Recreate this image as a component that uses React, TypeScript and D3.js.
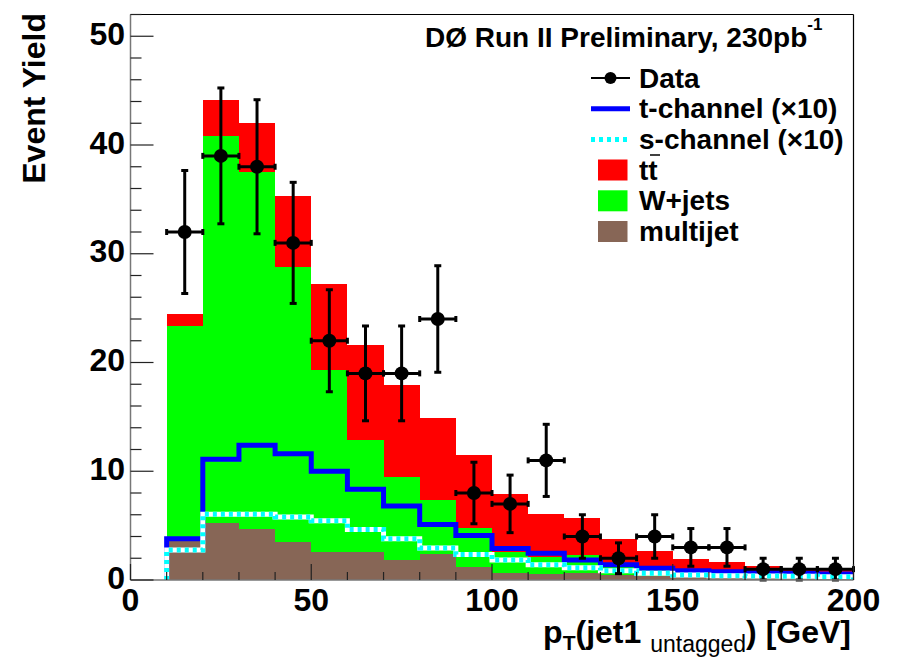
import React from "react";
import * as d3 from "d3";

const binEdges = [10, 20, 30, 40, 50, 60, 70, 80, 90, 100, 110, 120, 130, 140, 150, 160, 170, 180, 190, 200];
const multijet = [3.7, 5.2, 4.7, 3.5, 2.6, 2.6, 1.8, 2.4, 1.2, 0.6, 0.55, 0.6, 0.45, 0.4, 0.3, 0.3, 0.25, 0.2, 0.2];
const wjets = [19.7, 35.6, 32.8, 25.3, 16.7, 10.3, 7.7, 5.0, 3.6, 2.0, 1.6, 1.7, 0.95, 0.5, 0.4, 0.35, 0.25, 0.25, 0.2];
const ttbar = [1.1, 3.3, 4.5, 6.5, 7.9, 8.7, 8.4, 7.5, 6.7, 5.35, 3.95, 3.4, 2.4, 1.75, 1.25, 1.05, 0.8, 0.6, 0.5];
const tchannel = [3.8, 11.1, 12.4, 11.6, 10.0, 8.35, 6.8, 5.1, 4.1, 2.9, 2.45, 1.85, 1.4, 1.07, 0.86, 0.76, 0.67, 0.6, 0.55];
const schannel = [2.75, 6.05, 6.05, 5.8, 5.45, 4.65, 3.8, 2.95, 2.35, 1.85, 1.4, 1.13, 0.86, 0.62, 0.46, 0.4, 0.37, 0.34, 0.3];
const dataCounts = [32, 39, 38, 31, 22, 19, 19, 24, 8, 7, 11, 4, 2, 4, 3, 3, 1, 1, 1];
const xTicksMajor = [0, 50, 100, 150, 200];
const yTicksMajor = [0, 10, 20, 30, 40, 50];

const W = 898, H = 661;
const L = 130.5, R = 853.5, T = 14.5, B = 580;
const FONT = "'Liberation Sans', Arial, Helvetica, sans-serif";

export default function App() {
  const x = d3.scaleLinear().domain([0, 200]).range([L, R]);
  const y = d3.scaleLinear().domain([0, 52]).range([B, T]);

  const rows = multijet.map((m, i) => ({ i, multijet: m, wjets: wjets[i], ttbar: ttbar[i] }));
  const stack = d3.stack<any>().keys(["multijet", "wjets", "ttbar"])(rows);
  const colors: Record<string, string> = { multijet: "#876656", wjets: "#00ff00", ttbar: "#ff0000" };

  const stepPath = (vals: number[]) => {
    const pts: [number, number][] = [[binEdges[0], 0]];
    vals.forEach((v, i) => {
      pts.push([binEdges[i], v]);
      pts.push([binEdges[i + 1], v]);
    });
    pts.push([binEdges[binEdges.length - 1], 0]);
    return d3.line<[number, number]>().x(d => x(d[0])).y(d => y(d[1]))(pts) || "";
  };

  const yMinor = d3.range(0, 52.01, 2).filter(v => v % 10 !== 0);
  const xMinor = d3.range(0, 200.01, 10).filter(v => v % 50 !== 0);

  const legendX0 = 591, legendX1 = 630, legendText = 639;
  const rowsY = [78, 108.7, 139.4, 170, 200.8, 231.5];

  return (
    <svg width={W} height={H} style={{ position: "absolute", left: 0, top: 0, background: "#fff" }} fontFamily={FONT}>
      <rect x={0} y={0} width={W} height={H} fill="#fff" />
      <defs>
        <clipPath id="frame">
          <rect x={L} y={T} width={R - L} height={B - T} />
        </clipPath>
      </defs>
      <g clipPath="url(#frame)">
        {stack.map(layer => (
          <g key={layer.key}>
            {layer.map((d, i) => (
              <rect
                key={i}
                x={x(binEdges[i])}
                width={x(binEdges[i + 1]) - x(binEdges[i])}
                y={y(d[1])}
                height={y(d[0]) - y(d[1])}
                fill={colors[layer.key as string]}
                shapeRendering="crispEdges"
              />
            ))}
          </g>
        ))}
        <path d={stepPath(tchannel)} fill="none" stroke="#0000ff" strokeWidth={5} />
        <path d={stepPath(schannel)} fill="none" stroke="#ffffff" strokeWidth={5} />
        <path d={stepPath(schannel)} fill="none" stroke="#00ffff" strokeWidth={5} strokeDasharray="4 4" />
      </g>

      {/* data points */}
      <g stroke="#000" strokeWidth={3}>
        {dataCounts.map((n, i) => {
          const cx = x((binEdges[i] + binEdges[i + 1]) / 2);
          const cy = y(n);
          const e = Math.sqrt(n);
          const x0 = x(binEdges[i]), x1 = x(binEdges[i + 1]);
          const yt = y(n + e), yb = y(Math.max(n - e, 0));
          return (
            <g key={i}>
              <line x1={x0} x2={x1} y1={cy} y2={cy} />
              <line x1={x0} x2={x0} y1={cy - 3} y2={cy + 3} />
              <line x1={x1} x2={x1} y1={cy - 3} y2={cy + 3} />
              <line x1={cx} x2={cx} y1={yt} y2={yb} />
              <line x1={cx - 3.5} x2={cx + 3.5} y1={yt} y2={yt} />
              <line x1={cx - 3.5} x2={cx + 3.5} y1={yb} y2={yb} />
              <circle cx={cx} cy={cy} r={7} fill="#000" stroke="none" />
            </g>
          );
        })}
      </g>

      {/* frame */}
      <line x1={L} x2={R} y1={T} y2={T} stroke="#000" strokeWidth={1.2} />
      <line x1={R} x2={R} y1={T} y2={B} stroke="#000" strokeWidth={1.2} />
      <line x1={L} x2={L} y1={T} y2={B} stroke="#777" strokeWidth={1.5} />
      <line x1={L} x2={R} y1={B} y2={B} stroke="#777" strokeWidth={1.5} />

      {/* ticks */}
      <g stroke="#222" strokeWidth={1.2}>
        {yTicksMajor.map(v => <line key={"ym" + v} x1={L} x2={L + 23} y1={y(v)} y2={y(v)} />)}
        {yMinor.map(v => <line key={"yn" + v} x1={L} x2={L + 11} y1={y(v)} y2={y(v)} />)}
        {xTicksMajor.map(v => <line key={"xm" + v} x1={x(v)} x2={x(v)} y1={B} y2={B - 16} />)}
        {xMinor.map(v => <line key={"xn" + v} x1={x(v)} x2={x(v)} y1={B} y2={B - 8} />)}
      </g>

      {/* tick labels */}
      <g fontSize={32} fontWeight="bold" fill="#000">
        {yTicksMajor.map(v => (
          <text key={"yl" + v} x={125} y={y(v) - 2.5} textAnchor="end" dominantBaseline="central">{v}</text>
        ))}
        {xTicksMajor.map(v => (
          <text key={"xl" + v} x={x(v)} y={611} textAnchor="middle">{v}</text>
        ))}
      </g>

      {/* axis titles */}
      <text transform="translate(45,13) rotate(-90)" textAnchor="end" fontSize={32} fontWeight="bold">Event Yield</text>
      <text x={851} y={643} textAnchor="end" fontSize={32} fontWeight="bold">
        p<tspan fontSize={21} dy={7}>T</tspan><tspan dy={-7}>(jet1 </tspan>
        <tspan fontSize={23} fontWeight="normal" dy={9}>untagged</tspan>
        <tspan dy={-9}>) [GeV]</tspan>
      </text>

      {/* title */}
      <text x={425} y={47} fontSize={28} fontWeight="bold">
        DØ Run II Preliminary, 230pb<tspan fontSize={17} dy={-17}>-1</tspan>
      </text>

      {/* legend */}
      <g fontSize={28} fontWeight="bold">
        <line x1={legendX0} x2={legendX1} y1={rowsY[0]} y2={rowsY[0]} stroke="#000" strokeWidth={2} />
        <circle cx={(legendX0 + legendX1) / 2} cy={rowsY[0]} r={6} fill="#000" />
        <text x={legendText} y={rowsY[0]} dominantBaseline="central">Data</text>

        <line x1={legendX0} x2={legendX1} y1={rowsY[1]} y2={rowsY[1]} stroke="#0000ff" strokeWidth={5} />
        <text x={legendText} y={rowsY[1]} dominantBaseline="central">t-channel (×10)</text>

        <line x1={legendX0} x2={legendX1} y1={rowsY[2]} y2={rowsY[2]} stroke="#00ffff" strokeWidth={5} strokeDasharray="4 4" />
        <text x={legendText} y={rowsY[2]} dominantBaseline="central">s-channel (×10)</text>

        <rect x={598} y={rowsY[3] - 10.5} width={29.5} height={21} fill="#ff0000" />
        <text x={legendText} y={rowsY[3]} dominantBaseline="central">tt</text>
        <line x1={650} x2={660} y1={155} y2={155} stroke="#000" strokeWidth={1.5} />

        <rect x={598} y={rowsY[4] - 10.5} width={29.5} height={21} fill="#00ff00" />
        <text x={legendText} y={rowsY[4]} dominantBaseline="central">W+jets</text>

        <rect x={598} y={rowsY[5] - 10.5} width={29.5} height={21} fill="#876656" />
        <text x={legendText} y={rowsY[5]} dominantBaseline="central">multijet</text>
      </g>
    </svg>
  );
}
